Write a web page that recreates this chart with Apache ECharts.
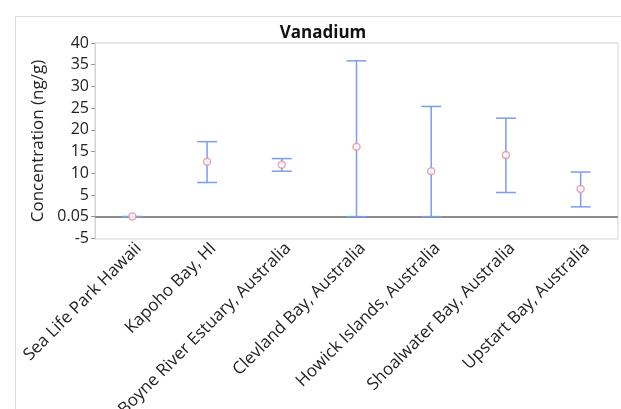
<!DOCTYPE html>
<html>
<head>
<meta charset="utf-8">
<script src="https://cdn.jsdelivr.net/npm/echarts@6/dist/echarts.min.js"></script>
<style>
  html, body { margin: 0; padding: 0; background: #fff; }
  #chart { width: 621px; height: 409px; }
</style>
</head>
<body>
<div id="chart"></div>
<script>
// sites, in plot order
let sites = ['Sea Life Park Hawaii', 'Kapoho Bay, HI', 'Boyne River Estuary, Australia',
    'Clevland Bay, Australia', 'Howick Islands, Australia', 'Shoalwater Bay, Australia',
    'Upstart Bay, Australia'];
// mean concentration (ng/g) and error bar ends
let mean_vals = [0.05, 12.7, 12.0, 16.1, 10.5, 14.2, 6.4];
let low_vals = [0.05, 7.9, 10.5, 0.05, 0.05, 5.6, 2.3];
let high_vals = [0.05, 17.3, 13.4, 35.9, 25.4, 22.7, 10.3];
let y_ticks = [-5, 0.05, 5, 10, 15, 20, 25, 30, 35, 40];
let ref_value = 0.05;

let bar_color = '#7b9cf0';
let point_color = '#e8909e';
let font = '"Open Sans", "Noto Sans", sans-serif';

let err_data = [];
for (let i = 0; i < sites.length; i++) {
    err_data.push([i, low_vals[i], high_vals[i]]);
}

var myChart = echarts.init(document.getElementById('chart'));

var option = {
    animation: false,
    title: {
        text: 'Vanadium',
        left: 318,
        textAlign: 'center',
        top: 20,
        textStyle: { fontFamily: font, fontSize: 17, fontWeight: 'bold', color: '#111' }
    },
    graphic: [
        { type: 'line', shape: { x1: 15, y1: 16.5, x2: 621, y2: 16.5 }, style: { stroke: '#dcdcdc', lineWidth: 1 } },
        { type: 'line', shape: { x1: 15.5, y1: 16, x2: 15.5, y2: 409 }, style: { stroke: '#dcdcdc', lineWidth: 1 } }
    ],
    grid: {
        left: 95, right: 3, top: 43, bottom: 170,
        outerBoundsMode: 'none',
        containLabel: false,
        show: true, borderColor: '#d4d4d4', borderWidth: 1
    },
    xAxis: {
        type: 'category',
        data: sites,
        axisLine: { show: false },
        axisTick: { show: false },
        axisLabel: {
            rotate: 45, interval: 0, margin: 13,
            padding: [0, -9, 0, 0],
            fontFamily: font, fontSize: 17, color: '#222'
        }
    },
    yAxis: {
        type: 'value',
        min: -5.1,
        max: 40,
        name: 'Concentration (ng/g)',
        nameLocation: 'middle',
        nameGap: 42,
        nameTextStyle: { fontFamily: font, fontSize: 17, color: '#222' },
        axisLine: { show: true, lineStyle: { color: '#d4d4d4' } },
        axisTick: { show: true, length: 4, lineStyle: { color: '#999' }, customValues: y_ticks },
        axisLabel: {
            fontFamily: font, fontSize: 16, color: '#222', margin: 6,
            customValues: y_ticks,
            formatter: function (v) { return String(v); }
        },
        splitLine: { show: false }
    },
    series: [
        {
            type: 'custom',
            z: 3,
            renderItem: function (params, api) {
                let x = api.value(0);
                let lo = api.coord([x, api.value(1)]);
                let hi = api.coord([x, api.value(2)]);
                let hw = 10;
                let st = { stroke: bar_color, lineWidth: 1.5 };
                return {
                    type: 'group',
                    children: [
                        { type: 'line', shape: { x1: lo[0], y1: lo[1], x2: hi[0], y2: hi[1] }, style: st },
                        { type: 'line', shape: { x1: lo[0] - hw, y1: lo[1], x2: lo[0] + hw, y2: lo[1] }, style: st },
                        { type: 'line', shape: { x1: hi[0] - hw, y1: hi[1], x2: hi[0] + hw, y2: hi[1] }, style: st }
                    ]
                };
            },
            encode: { x: 0, y: [1, 2] },
            data: err_data
        },
        {
            type: 'scatter',
            z: 4,
            symbol: 'circle',
            symbolSize: 7,
            itemStyle: { color: '#fff', borderColor: point_color, borderWidth: 1.5 },
            data: mean_vals,
            markLine: {
                silent: true,
                symbol: 'none',
                label: { show: false },
                lineStyle: { color: '#8c8c8c', width: 2, type: 'solid' },
                z: 2,
                data: [{ yAxis: ref_value }]
            }
        }
    ]
};

myChart.setOption(option);
</script>
</body>
</html>
